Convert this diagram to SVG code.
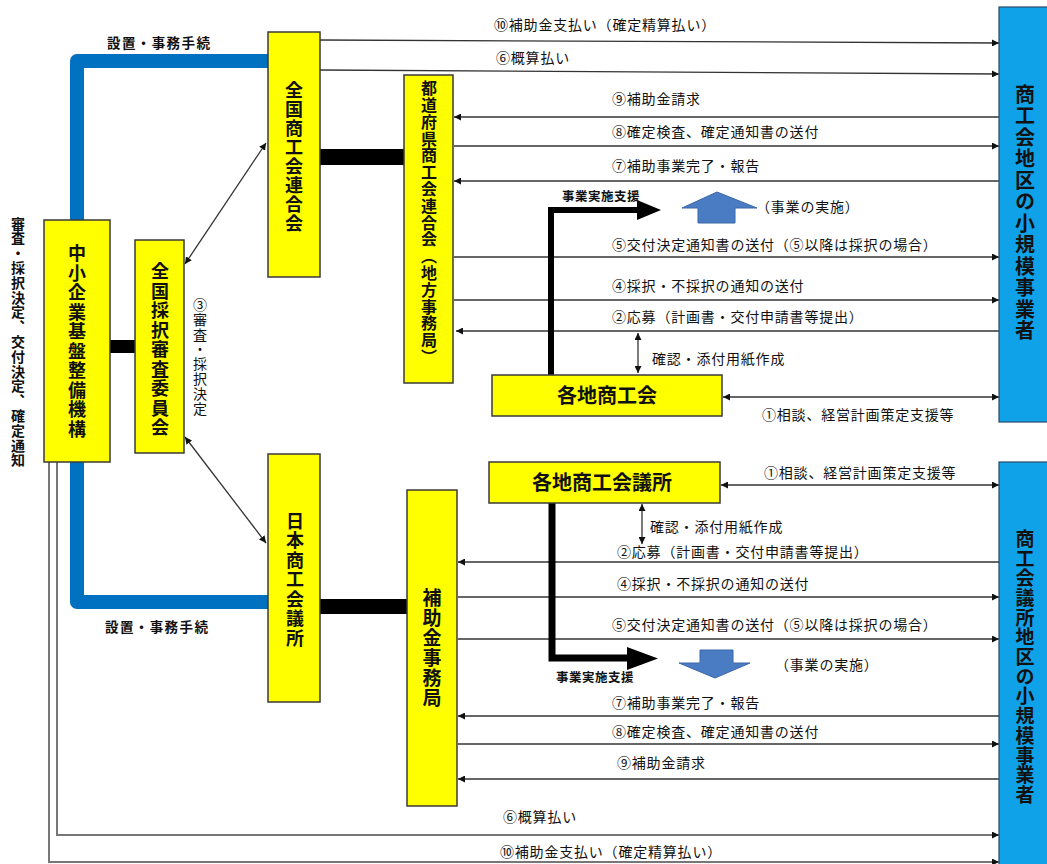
<svg xmlns="http://www.w3.org/2000/svg" width="1047" height="864" viewBox="0 0 1047 864">
<style>
text{font-family:"Noto Sans CJK JP","Noto Sans CJK SC",sans-serif;fill:#111}
.lbl{font-size:14px;letter-spacing:0.8px}
.sm{font-size:12.5px;font-weight:bold;letter-spacing:0.5px}
.v{writing-mode:vertical-rl;text-anchor:middle;font-weight:bold}
.yel{fill:#FFFF00;stroke:#3a3a3a;stroke-width:1.5}
.blu{fill:#10A2E8;stroke:#2a4a66;stroke-width:1.2}
.ln{stroke:#333;stroke-width:1.3;fill:none}
.gr{stroke:#777;stroke-width:2;fill:none}
.thick{stroke:#000;fill:none}
.bline{stroke:#0070C0;stroke-width:14;fill:none;stroke-linejoin:round}
.barr{fill:#4A7CC4;stroke:#3A66A8;stroke-width:1}
.set{font-size:13.5px;font-weight:bold;letter-spacing:1.4px}
</style>
<defs>
<marker id="ah" viewBox="0 0 10 10" refX="10" refY="5" markerWidth="7" markerHeight="7" orient="auto-start-reverse" markerUnits="userSpaceOnUse">
<path d="M0,0 L10,5 L0,10 Z" fill="#111"/>
</marker>
</defs>
<rect width="1047" height="864" fill="#fff"/>

<g id="structure">
<path class="bline" d="M77,222 V61 H268"/>
<path class="bline" d="M77,460 V602 H268"/>
<rect x="320" y="149" width="84" height="16" fill="#000"/>
<rect x="110" y="340" width="25" height="13" fill="#000"/>
<rect x="320" y="599" width="87" height="15" fill="#000"/>
</g>

<g id="connectors">
<line class="ln" x1="320" y1="40" x2="999" y2="43" marker-end="url(#ah)"/>
<line class="ln" x1="320" y1="70" x2="999" y2="74" marker-end="url(#ah)"/>
<line class="ln" x1="999" y1="117" x2="454" y2="117" marker-end="url(#ah)"/>
<line class="ln" x1="454" y1="146" x2="999" y2="146" marker-end="url(#ah)"/>
<line class="ln" x1="999" y1="181" x2="454" y2="181" marker-end="url(#ah)"/>
<line class="ln" x1="454" y1="257" x2="999" y2="257" marker-end="url(#ah)"/>
<line class="ln" x1="454" y1="300" x2="999" y2="300" marker-end="url(#ah)"/>
<line class="ln" x1="1000" y1="331" x2="456" y2="331" marker-end="url(#ah)"/>
<line class="ln" x1="638" y1="333" x2="638" y2="373" marker-start="url(#ah)" marker-end="url(#ah)"/>
<line class="ln" x1="723" y1="397" x2="999" y2="397" marker-start="url(#ah)" marker-end="url(#ah)"/>

<line class="ln" x1="721" y1="485" x2="999" y2="485" marker-start="url(#ah)" marker-end="url(#ah)"/>
<line class="ln" x1="642" y1="504" x2="642" y2="544" marker-start="url(#ah)" marker-end="url(#ah)"/>
<line class="ln" x1="1000" y1="562" x2="458" y2="562" marker-end="url(#ah)"/>
<line class="ln" x1="458" y1="597" x2="999" y2="597" marker-end="url(#ah)"/>
<line class="ln" x1="458" y1="639" x2="999" y2="639" marker-end="url(#ah)"/>
<line class="ln" x1="1000" y1="716" x2="458" y2="716" marker-end="url(#ah)"/>
<line class="ln" x1="458" y1="744" x2="999" y2="744" marker-end="url(#ah)"/>
<line class="ln" x1="1000" y1="779" x2="458" y2="779" marker-end="url(#ah)"/>
<path class="gr" d="M57,462 V835 H999" marker-end="url(#ah)"/>
<path class="gr" d="M49,462 V862 H999" marker-end="url(#ah)"/>

<line class="ln" x1="185" y1="264" x2="266" y2="143" marker-start="url(#ah)" marker-end="url(#ah)"/>
<line class="ln" x1="185" y1="437" x2="266" y2="543" marker-start="url(#ah)" marker-end="url(#ah)"/>

<path class="thick" stroke-width="6" d="M551,375 V210 H638"/>
<polygon points="637,200 661,210 637,220" fill="#000"/>
<path class="thick" stroke-width="7" d="M552,503 V658 H628"/>
<polygon points="627,647 658,658.5 627,670" fill="#000"/>

<polygon class="barr" points="717,192 757,208 735,208 735,223 698,223 698,208 682,208"/>
<polygon class="barr" points="700,650 733,650 733,663 750,663 715,678 679,663 700,663"/>
</g>

<g id="n-kiban">
<rect class="yel" x="44" y="220" width="66" height="242"/>
<text class="v" x="77" y="342" font-size="18" letter-spacing="1.5">中小企業基盤整備機構</text>
</g>
<g id="n-shinsa">
<rect class="yel" x="135" y="240" width="49" height="213"/>
<text class="v" x="160" y="350" font-size="18" letter-spacing="1.5">全国採択審査委員会</text>
</g>
<g id="n-zenkoku">
<rect class="yel" x="268" y="32" width="52" height="245"/>
<text class="v" x="294" y="157" font-size="18" letter-spacing="1">全国商工会連合会</text>
</g>
<g id="n-todofuken">
<rect class="yel" x="404" y="75" width="49" height="308"/>
<text class="v" x="429" y="223" font-size="16" letter-spacing="0.8">都道府県商工会連合会（地方事務局）</text>
</g>
<g id="n-nissho">
<rect class="yel" x="268" y="454" width="52" height="248"/>
<text class="v" x="295" y="580" font-size="18" letter-spacing="1.5">日本商工会議所</text>
</g>
<g id="n-hojokin">
<rect class="yel" x="407" y="490" width="50" height="316"/>
<text class="v" x="432" y="648" font-size="19" letter-spacing="1">補助金事務局</text>
</g>
<g id="n-kakuchi-shokokai">
<rect class="yel" x="492" y="375" width="230" height="41"/>
<text x="607" y="403" font-size="20" font-weight="bold" text-anchor="middle">各地商工会</text>
</g>
<g id="n-kakuchi-kaigisho">
<rect class="yel" x="489" y="462" width="231" height="41"/>
<text x="602" y="490" font-size="20" font-weight="bold" text-anchor="middle">各地商工会議所</text>
</g>
<g id="n-jigyosha1">
<rect class="blu" x="999" y="7" width="52" height="415"/>
<text class="v" x="1025" y="213" font-size="20" letter-spacing="1.5">商工会地区の小規模事業者</text>
</g>
<g id="n-jigyosha2">
<rect class="blu" x="999" y="462" width="52" height="410"/>
<text class="v" x="1025" y="667" font-size="19" letter-spacing="0.7">商工会議所地区の小規模事業者</text>
</g>

<g id="labels">
<text class="v" x="18" y="342" font-size="14" letter-spacing="0.8">審査・採択決定、交付決定、確定通知</text>
<text x="200" y="357" font-size="14" letter-spacing="0.9" style="writing-mode:vertical-rl;text-anchor:middle">③審査・採択決定</text>
<text class="set" x="107" y="48">設置・事務手続</text>
<text class="set" x="105" y="632">設置・事務手続</text>

<text class="lbl" x="494" y="30">⑩補助金支払い（確定精算払い）</text>
<text class="lbl" x="496" y="63">⑥概算払い</text>
<text class="lbl" x="612" y="104">⑨補助金請求</text>
<text class="lbl" x="612" y="137">⑧確定検査、確定通知書の送付</text>
<text class="lbl" x="612" y="171">⑦補助事業完了・報告</text>
<text class="sm" x="562" y="201">事業実施支援</text>
<text class="lbl" x="756" y="212">（事業の実施）</text>
<text class="lbl" x="612" y="250">⑤交付決定通知書の送付（⑤以降は採択の場合）</text>
<text class="lbl" x="612" y="291">④採択・不採択の通知の送付</text>
<text class="lbl" x="612" y="322">②応募（計画書・交付申請書等提出）</text>
<text class="lbl" x="652" y="364">確認・添付用紙作成</text>
<text class="lbl" x="762" y="420">①相談、経営計画策定支援等</text>

<text class="lbl" x="764" y="478">①相談、経営計画策定支援等</text>
<text class="lbl" x="650" y="532">確認・添付用紙作成</text>
<text class="lbl" x="617" y="557">②応募（計画書・交付申請書等提出）</text>
<text class="lbl" x="617" y="589">④採択・不採択の通知の送付</text>
<text class="lbl" x="612" y="630">⑤交付決定通知書の送付（⑤以降は採択の場合）</text>
<text class="sm" x="556" y="682">事業実施支援</text>
<text class="lbl" x="775" y="670">（事業の実施）</text>
<text class="lbl" x="612" y="708">⑦補助事業完了・報告</text>
<text class="lbl" x="612" y="737">⑧確定検査、確定通知書の送付</text>
<text class="lbl" x="617" y="768">⑨補助金請求</text>
<text class="lbl" x="503" y="822">⑥概算払い</text>
<text class="lbl" x="500" y="857">⑩補助金支払い（確定精算払い）</text>
</g>
</svg>
